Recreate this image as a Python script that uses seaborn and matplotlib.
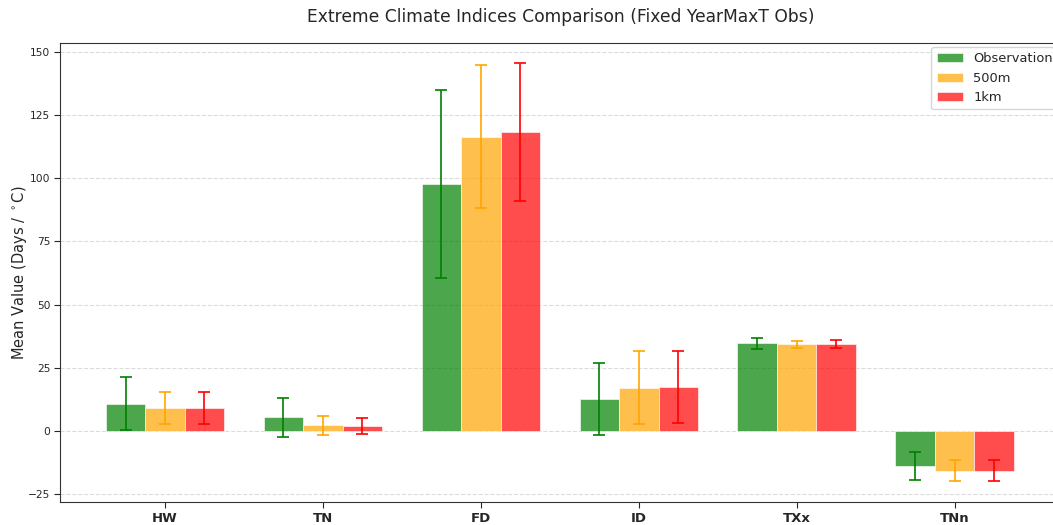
import numpy as np
import pandas as pd
import matplotlib
matplotlib.use("Agg")
import matplotlib.pyplot as plt
import seaborn as sns

indices = ["HW", "TN", "FD", "ID", "TXx", "TNn"]
sources = ["Observation", "500m", "1km"]
obs_mean = [10.8, 5.4, 97.7, 12.5, 34.7, -13.7]
obs_err = [10.6, 7.8, 37.3, 14.2, 2.1, 5.5]
m500_mean = [9.0, 2.2, 116.5, 17.1, 34.3, -15.7]
m500_err = [6.4, 3.7, 28.3, 14.4, 1.4, 4.2]
km1_mean = [9.2, 1.9, 118.3, 17.4, 34.3, -15.7]
km1_err = [6.4, 3.2, 27.3, 14.2, 1.5, 4.2]
colors = ["green", "orange", "red"]

means = [obs_mean, m500_mean, km1_mean]
errs = [obs_err, m500_err, km1_err]
df = pd.DataFrame({
    "Index": indices * 3,
    "Source": [s for s in sources for _ in indices],
    "Mean": sum(means, []),
    "Err": sum(errs, []),
})

sns.set_style("ticks")
plt.rcParams["font.family"] = ["DejaVu Sans"]

fig = plt.figure(figsize=(10.53, 5.25), dpi=100)
ax = fig.add_axes([60 / 1053, 1 - 502 / 525, 1002 / 1053, (502 - 43) / 525])

sns.barplot(data=df, x="Index", y="Mean", hue="Source", order=indices,
            hue_order=sources, palette=colors, saturation=1, alpha=0.7, width=0.75,
            errorbar=None, ax=ax, linewidth=0.6, edgecolor="white", zorder=3)

bw = 0.25
for k, (m, e, c) in enumerate(zip(means, errs, colors)):
    xs = np.arange(len(indices)) + (k - 1) * bw
    ax.errorbar(xs, m, yerr=e, fmt="none", ecolor=c, capsize=4,
                elinewidth=1.2, capthick=1.2, zorder=4)

ax.set_xlim(-0.665, len(indices) - 1 + 0.68)
ax.set_ylim(-28.1, 153.5)
ax.set_yticks(np.arange(-25, 151, 25))
ax.grid(axis="y", linestyle="--", alpha=0.7, zorder=0)
ax.set_axisbelow(True)
ax.set_xlabel("")
ax.set_ylabel("Mean Value (Days / $^\\circ$C)", fontsize=10.5)
ax.yaxis.set_label_coords(-0.031, 0.5)
ax.set_title("Extreme Climate Indices Comparison (Fixed YearMaxT Obs)", fontsize=12.3, pad=15)
for lab in ax.get_xticklabels():
    lab.set_fontweight("bold")
    lab.set_fontsize(9.5)
ax.tick_params(axis="y", labelsize=7.7, length=4, pad=3)
ax.tick_params(axis="x", length=4, pad=3)
for sp in ax.spines.values():
    sp.set_visible(True)
    sp.set_color("#333333")
ax.legend(loc="upper right", fontsize=9.4, borderaxespad=0.3)

fig.savefig("out.png", dpi=100)
